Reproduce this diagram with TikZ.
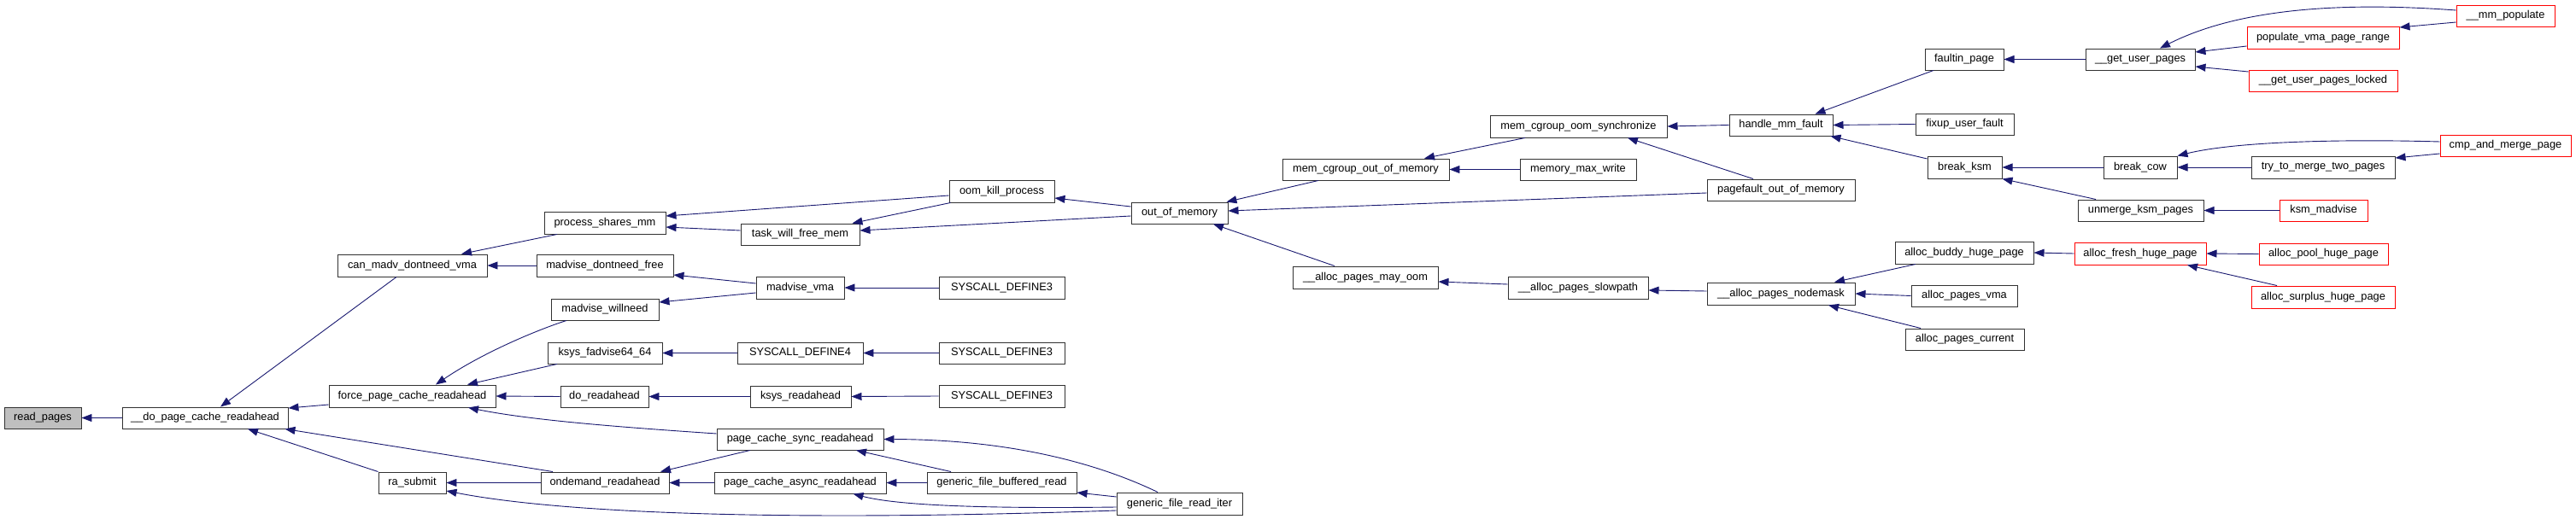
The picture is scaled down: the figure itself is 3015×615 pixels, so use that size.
\documentclass[tikz,border=0pt]{standalone}
\usepackage{fontspec}
\setmainfont{Liberation Sans}
\usetikzlibrary{arrows.meta}
\definecolor{edgeblue}{RGB}{25,25,112}
\definecolor{boxgray}{RGB}{191,191,191}
\definecolor{boxline}{RGB}{50,50,50}
\begin{document}
\begin{tikzpicture}[x=1pt,y=-1pt,
  nbox/.style={draw=boxline, line width=0.95pt, fill=white, inner sep=0pt, font=\fontsize{12.8}{15}\selectfont, text=black},
  redbox/.style={nbox, draw=red},
  graybox/.style={nbox, fill=boxgray},
  cedge/.style={draw=edgeblue, line width=0.9pt, -{Triangle[length=12pt,width=9pt]}, fill=none}]
\useasboundingbox (0,0) rectangle (3015,615);
% nodes
\node[graybox, minimum width=90pt, minimum height=25pt] (rp) at (50,489.5) {read\_pages};
\node[nbox, minimum width=194pt, minimum height=25pt] (dpcr) at (240,489.5) {\_\_do\_page\_cache\_readahead};
\node[nbox, minimum width=175pt, minimum height=26pt] (cmdv) at (482.5,311) {can\_madv\_dontneed\_vma};
\node[nbox, minimum width=195pt, minimum height=26pt] (fpcr) at (482.5,464) {force\_page\_cache\_readahead};
\node[nbox, minimum width=79pt, minimum height=25pt] (ras) at (482.5,565.5) {ra\_submit};
\node[nbox, minimum width=142pt, minimum height=26pt] (psm) at (708,261) {process\_shares\_mm};
\node[nbox, minimum width=160pt, minimum height=26pt] (mdf) at (708,311) {madvise\_dontneed\_free};
\node[nbox, minimum width=126pt, minimum height=25pt] (mwn) at (708,362.5) {madvise\_willneed};
\node[nbox, minimum width=134pt, minimum height=25pt] (kfad) at (708,413.5) {ksys\_fadvise64\_64};
\node[nbox, minimum width=103pt, minimum height=25pt] (dor) at (707.5,464.5) {do\_readahead};
\node[nbox, minimum width=150pt, minimum height=25pt] (odr) at (708,565.5) {ondemand\_readahead};
\node[nbox, minimum width=139pt, minimum height=25pt] (twfm) at (936.5,274.5) {task\_will\_free\_mem};
\node[nbox, minimum width=103pt, minimum height=26pt] (mvma) at (936.5,337) {madvise\_vma};
\node[nbox, minimum width=147pt, minimum height=25pt] (sd4) at (936.5,413.5) {SYSCALL\_DEFINE4};
\node[nbox, minimum width=118pt, minimum height=25pt] (ksr) at (937,464.5) {ksys\_readahead};
\node[nbox, minimum width=195pt, minimum height=25pt] (pcsr) at (936.5,514.5) {page\_cache\_sync\_readahead};
\node[nbox, minimum width=201pt, minimum height=25pt] (pcar) at (936.5,565.5) {page\_cache\_async\_readahead};
\node[nbox, minimum width=123pt, minimum height=26pt] (okp) at (1172.5,224) {oom\_kill\_process};
\node[nbox, minimum width=147pt, minimum height=26pt] (sd3a) at (1172.5,337) {SYSCALL\_DEFINE3};
\node[nbox, minimum width=147pt, minimum height=25pt] (sd3b) at (1172.5,413.5) {SYSCALL\_DEFINE3};
\node[nbox, minimum width=147pt, minimum height=26pt] (sd3c) at (1172.5,464) {SYSCALL\_DEFINE3};
\node[nbox, minimum width=175pt, minimum height=25pt] (gfbr) at (1172.5,565.5) {generic\_file\_buffered\_read};
\node[nbox, minimum width=113pt, minimum height=25pt] (oom) at (1380.5,249.5) {out\_of\_memory};
\node[nbox, minimum width=147pt, minimum height=26pt] (gfri) at (1380.5,590) {generic\_file\_read\_iter};
\node[nbox, minimum width=195pt, minimum height=25pt] (mcoom) at (1598.5,198.5) {mem\_cgroup\_out\_of\_memory};
\node[nbox, minimum width=170pt, minimum height=26pt] (apmo) at (1598,325) {\_\_alloc\_pages\_may\_oom};
\node[nbox, minimum width=207pt, minimum height=26pt] (mcoos) at (1847.5,148) {mem\_cgroup\_oom\_synchronize};
\node[nbox, minimum width=136pt, minimum height=25pt] (mmw) at (1847,198.5) {memory\_max\_write};
\node[nbox, minimum width=164pt, minimum height=26pt] (apsp) at (1847,337) {\_\_alloc\_pages\_slowpath};
\node[nbox, minimum width=121pt, minimum height=25pt] (hmf) at (2084.5,146.5) {handle\_mm\_fault};
\node[nbox, minimum width=173pt, minimum height=25pt] (pfoom) at (2084.5,222.5) {pagefault\_out\_of\_memory};
\node[nbox, minimum width=173pt, minimum height=26pt] (apnm) at (2084.5,344) {\_\_alloc\_pages\_nodemask};
\node[nbox, minimum width=92pt, minimum height=25pt] (fip) at (2299,69.5) {faultin\_page};
\node[nbox, minimum width=115pt, minimum height=25pt] (fuf) at (2299.5,145.5) {fixup\_user\_fault};
\node[nbox, minimum width=87pt, minimum height=26pt] (bksm) at (2299.5,196) {break\_ksm};
\node[nbox, minimum width=162pt, minimum height=26pt] (abhp) at (2299,296) {alloc\_buddy\_huge\_page};
\node[nbox, minimum width=124pt, minimum height=25pt] (apv) at (2299,346.5) {alloc\_pages\_vma};
\node[nbox, minimum width=139pt, minimum height=25pt] (apc) at (2299.5,397.5) {alloc\_pages\_current};
\node[nbox, minimum width=128pt, minimum height=25pt] (gup) at (2505,69.5) {\_\_get\_user\_pages};
\node[nbox, minimum width=86pt, minimum height=26pt] (bcow) at (2505,196) {break\_cow};
\node[nbox, minimum width=147pt, minimum height=25pt] (uksm) at (2505.5,246.5) {unmerge\_ksm\_pages};
\node[redbox, minimum width=154pt, minimum height=26pt] (afhp) at (2505,297) {alloc\_fresh\_huge\_page};
\node[redbox, minimum width=178pt, minimum height=26pt] (pvpr) at (2719,44) {populate\_vma\_page\_range};
\node[redbox, minimum width=174pt, minimum height=25pt] (gupl) at (2719,94.5) {\_\_get\_user\_pages\_locked};
\node[nbox, minimum width=168pt, minimum height=26pt] (ttm) at (2719,196) {try\_to\_merge\_two\_pages};
\node[redbox, minimum width=103pt, minimum height=25pt] (ksmm) at (2719.5,246.5) {ksm\_madvise};
\node[redbox, minimum width=151pt, minimum height=25pt] (apool) at (2719.5,297.5) {alloc\_pool\_huge\_page};
\node[redbox, minimum width=168pt, minimum height=26pt] (asur) at (2719,348) {alloc\_surplus\_huge\_page};
\node[redbox, minimum width=115pt, minimum height=25pt] (mmpop) at (2932.5,18.5) {\_\_mm\_populate};
\node[redbox, minimum width=153pt, minimum height=25pt] (cmp) at (2932.5,170.5) {cmp\_and\_merge\_page};
% edges (caller -> callee)
\draw[cedge] (dpcr.west) -- (rp.east);
\draw[cedge] ([xshift=-18.5pt]cmdv.south) -- ([xshift=18pt]dpcr.north);
\draw[cedge] ([yshift=-10pt]fpcr.west) -- ([yshift=11.5pt]dpcr.east);
\draw[cedge] ([yshift=6.5pt]pcsr.west) .. controls (720,500) and (620,492) .. ([xshift=65.5pt]fpcr.south);
\draw[cedge] ([xshift=-61pt]odr.north) -- ([xshift=-4pt]dpcr.south east);
\draw[cedge] (ras.north west) -- ([xshift=50pt]dpcr.south);
\draw[cedge] (odr.west) -- (ras.east);
\draw[cedge] ([yshift=-8pt]gfri.west) .. controls (900,612) and (650,600) .. ([yshift=-9.5pt]ras.east);
\draw[cedge] ([xshift=-58.5pt]pcsr.south) -- ([xshift=65pt]odr.north);
\draw[cedge] (pcar.west) -- (odr.east);
\draw[cedge] (mdf.west) -- (cmdv.east);
\draw[cedge] ([yshift=5pt]mvma.west) -- ([yshift=-11pt]mdf.east);
\draw[cedge] ([yshift=-6pt]mvma.west) -- ([yshift=8.5pt]mwn.east);
\draw[cedge] (sd3a.west) -- (mvma.east);
\draw[cedge] ([xshift=-45pt]mwn.south) .. controls (630,386) and (565,413) .. ([xshift=27.5pt]fpcr.north);
\draw[cedge] ([xshift=-56pt]kfad.south) -- ([xshift=64.5pt]fpcr.north);
\draw[cedge] (sd4.west) -- (kfad.east);
\draw[cedge] (sd3b.west) -- (sd4.east);
\draw[cedge] (dor.west) -- (fpcr.east);
\draw[cedge] (ksr.west) -- (dor.east);
\draw[cedge] (sd3c.west) -- (ksr.east);
\draw[cedge] ([xshift=-56pt]psm.south) -- ([xshift=57.5pt]cmdv.north);
\draw[cedge] ([yshift=-5pt]okp.west) -- ([yshift=8pt]psm.east);
\draw[cedge] ([yshift=4.5pt]twfm.west) -- ([yshift=-5pt]psm.east);
\draw[cedge] ([xshift=2pt]okp.south west) -- ([xshift=-9pt]twfm.north east);
\draw[cedge] ([yshift=-3.5pt]oom.west) -- ([yshift=4.5pt]twfm.east);
\draw[cedge] ([yshift=7.5pt]oom.west) -- ([yshift=-8pt]okp.east);
\draw[cedge] ([xshift=-55.5pt]mcoom.south) -- ([xshift=-2pt]oom.north east);
\draw[cedge] ([yshift=-3.5pt]pfoom.west) -- ([yshift=2.5pt]oom.east);
\draw[cedge] ([xshift=-36pt]apmo.north) -- ([xshift=39.5pt]oom.south);
\draw[cedge] ([xshift=-62.5pt]mcoos.south) -- ([xshift=68.5pt]mcoom.north);
\draw[cedge] (mmw.west) -- (mcoom.east);
\draw[cedge] (hmf.west) -- (mcoos.east);
\draw[cedge] ([xshift=-32.5pt]pfoom.north) -- ([xshift=57.5pt]mcoos.south);
\draw[cedge] ([yshift=4pt]apsp.west) -- ([yshift=-5pt]apmo.east);
\draw[cedge] ([yshift=3pt]apnm.west) -- ([yshift=-3pt]apsp.east);
\draw[cedge] ([xshift=-36pt]fip.south) -- ([xshift=40pt]hmf.north);
\draw[cedge] (fuf.west) -- (hmf.east);
\draw[cedge] ([yshift=10pt]bksm.west) -- ([xshift=-3pt]hmf.south east);
\draw[cedge] (gup.west) -- (fip.east);
\draw[cedge] (bcow.west) -- (bksm.east);
\draw[cedge] ([xshift=-52.5pt]uksm.north) -- (bksm.south east);
\draw[cedge] (afhp.west) -- (abhp.east);
\draw[cedge] ([xshift=-57pt]abhp.south) -- ([xshift=62.5pt]apnm.north);
\draw[cedge] (apv.west) -- (apnm.east);
\draw[cedge] ([xshift=-51.5pt]apc.north) -- ([xshift=55.5pt]apnm.south);
\draw[cedge] ([yshift=6.5pt]mmpop.west) .. controls (2740,2) and (2620,10) .. ([xshift=23pt]gup.north);
\draw[cedge] ([yshift=-10pt]pvpr.west) -- ([yshift=8.5pt]gup.east);
\draw[cedge] ([yshift=10.5pt]gupl.west) -- ([yshift=-8.5pt]gup.east);
\draw[cedge] ([yshift=-7.5pt]mmpop.west) -- ([yshift=12pt]pvpr.east);
\draw[cedge] ([yshift=4.5pt]cmp.west) .. controls (2750,163) and (2620,165) .. (bcow.north east);
\draw[cedge] (ttm.west) -- (bcow.east);
\draw[cedge] ([yshift=-9.5pt]cmp.west) -- ([yshift=11pt]ttm.east);
\draw[cedge] (ksmm.west) -- (uksm.east);
\draw[cedge] (apool.west) -- (afhp.east);
\draw[cedge] ([xshift=-54pt]asur.north) -- ([xshift=55pt]afhp.south);
\draw[cedge] ([xshift=-59.5pt]gfbr.north) -- ([xshift=65.5pt]pcsr.south);
\draw[cedge] ([xshift=-25.5pt]gfri.north) .. controls (1300,550) and (1200,515) .. (pcsr.east);
\draw[cedge] (gfbr.west) -- (pcar.east);
\draw[cedge] ([yshift=-4pt]gfri.west) .. controls (1150,596) and (1050,592) .. ([xshift=62pt]pcar.south);
\draw[cedge] ([yshift=8pt]gfri.west) -- ([yshift=-11.5pt]gfbr.east);
\end{tikzpicture}
\end{document}
